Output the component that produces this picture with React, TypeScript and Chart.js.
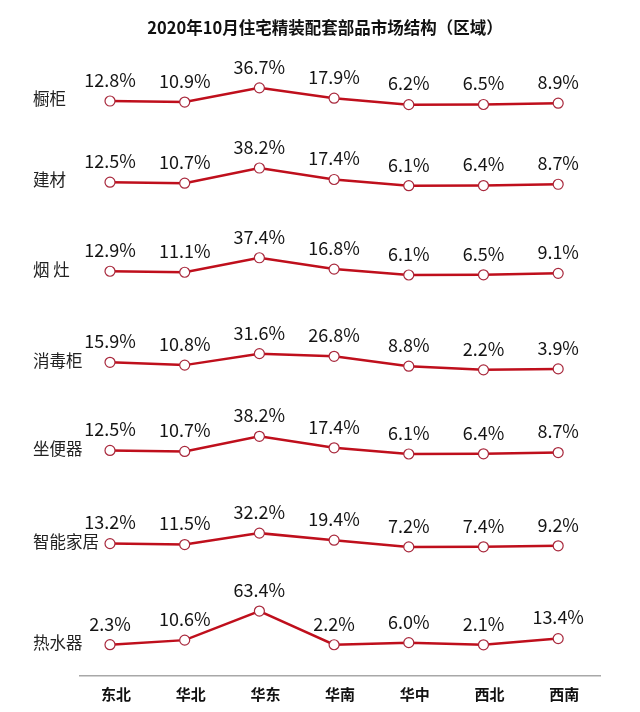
import React, { useEffect, useRef } from "react";
import { Chart, registerables } from "chart.js";

Chart.register(...registerables);

// ---------- data ----------
const TITLE = "2020年10月住宅精装配套部品市场结构（区域）";
const regions = ["东北", "华北", "华东", "华南", "华中", "西北", "西南"];
const products = ["橱柜", "建材", "烟 灶", "消毒柜", "坐便器", "智能家居", "热水器"];
const cabinet = [12.8, 10.9, 36.7, 17.9, 6.2, 6.5, 8.9];
const buildingMaterial = [12.5, 10.7, 38.2, 17.4, 6.1, 6.4, 8.7];
const stove = [12.9, 11.1, 37.4, 16.8, 6.1, 6.5, 9.1];
const disinfectionCabinet = [15.9, 10.8, 31.6, 26.8, 8.8, 2.2, 3.9];
const toilet = [12.5, 10.7, 38.2, 17.4, 6.1, 6.4, 8.7];
const smartHome = [13.2, 11.5, 32.2, 19.4, 7.2, 7.4, 9.2];
const waterHeater = [2.3, 10.6, 63.4, 2.2, 6.0, 2.1, 13.4];

const seriesList = [cabinet, buildingMaterial, stove, disinfectionCabinet, toilet, smartHome, waterHeater];

// ---------- layout (row bands) ----------
const rowHeights = [90, 80.9, 89.2, 92.6, 86.2, 93.4, 95.0];
const PX_PER_UNIT = 0.55;
const BAND_BOTTOM_GAP = 30;

const FONT = '"Noto Sans CJK SC", "Noto Sans", sans-serif';
const LINE_COLOR = "#bf0f1c";

const overlayPlugin = {
  id: "overlay",
  afterDatasetsDraw(chart: any) {
    const ctx = chart.ctx;
    ctx.save();
    chart.data.datasets.forEach((ds: any, di: number) => {
      const meta = chart.getDatasetMeta(di);
      ctx.fillStyle = "#141414";
      ctx.textBaseline = "middle";
      ctx.textAlign = "center";
      ctx.font = `18px ${FONT}`;
      meta.data.forEach((pt: any, i: number) => {
        ctx.fillText(`${ds.data[i].y.toFixed(1)}%`, pt.x, pt.y - 21);
      });
      ctx.textAlign = "left";
      ctx.font = `16.5px ${FONT}`;
      ctx.fillStyle = "#222";
      ctx.fillText(products[di], 33, meta.data[0].y - 2);
    });
    ctx.textAlign = "center";
    ctx.textBaseline = "middle";
    ctx.fillStyle = "#111";
    ctx.font = `bold 16.5px ${FONT}`;
    ctx.fillText(TITLE, 325, 28);
    ctx.restore();
  },
};

export default function App() {
  const ref = useRef<HTMLCanvasElement | null>(null);

  useEffect(() => {
    if (!ref.current) return;
    const scales: any = {};
    // define in reverse so that the first row ends up on top of the stack
    for (let i = seriesList.length - 1; i >= 0; i--) {
      scales[`y${i}`] = {
        type: "linear",
        position: "left",
        stack: "rows",
        stackWeight: rowHeights[i],
        min: -BAND_BOTTOM_GAP / PX_PER_UNIT,
        max: (rowHeights[i] - BAND_BOTTOM_GAP) / PX_PER_UNIT,
        display: true,
        ticks: { display: false },
        grid: { display: false, drawTicks: false },
        border: { display: false },
      };
    }
    scales.x = {
      type: "linear",
      position: "bottom",
      min: -0.4016,
      max: 6.56,
      afterBuildTicks: (axis: any) => {
        axis.ticks = regions.map((_, i) => ({ value: i }));
      },
      ticks: {
        callback: (v: any) => regions[v] ?? "",
        autoSkip: false,
        maxRotation: 0,
        labelOffset: 6,
        padding: 9,
        color: "#111",
        font: { family: FONT, size: 15, weight: "bold" },
      },
      grid: { display: false, drawTicks: false },
      border: { display: true, color: "#a8a8a8", width: 1.5 },
    };

    const chart = new Chart(ref.current, {
      type: "line",
      data: {
        datasets: seriesList.map((vals, di) => ({
          label: products[di],
          data: vals.map((v, i) => ({ x: i, y: v })),
          yAxisID: `y${di}`,
          xAxisID: "x",
          borderColor: LINE_COLOR,
          borderWidth: 2.5,
          pointRadius: 5,
          pointBackgroundColor: "#ffffff",
          pointBorderColor: "#a8283c",
          pointBorderWidth: 1.2,
          tension: 0,
          clip: false as any,
        })),
      },
      options: {
        animation: false,
        responsive: false,
        devicePixelRatio: 1,
        layout: { padding: { left: 80, right: 40, top: 48, bottom: 0 } },
        plugins: {
          legend: { display: false },
          tooltip: { enabled: false },
          title: { display: false },
        },
        scales,
      },
      plugins: [overlayPlugin],
    });
    return () => chart.destroy();
  }, []);

  return (
    <div style={{ position: "absolute", left: 0, top: 0, width: 640, height: 712, background: "#fff" }}>
      <canvas ref={ref} width={640} height={712} style={{ display: "block" }} />
    </div>
  );
}
